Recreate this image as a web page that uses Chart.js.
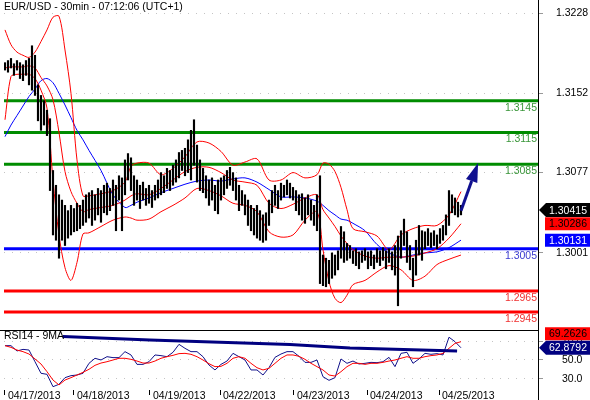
<!DOCTYPE html>
<html lang="en">
<head>
<meta charset="UTF-8">
<title>EUR/USD - 30min</title>
<script src="https://cdn.jsdelivr.net/npm/chart.js"></script>
<style>
  body { margin: 0; background: #fff; }
  #wrap { position: relative; width: 590px; height: 400px; overflow: hidden; }
  #priceChart { position: absolute; left: 0; top: 0; }
  #rsiChart { position: absolute; left: 0; top: 326px; }
  #axisLine { position: absolute; left: 538px; top: 0; width: 1px; height: 400px; background: #000; }
</style>
</head>
<body>
<div id="wrap">
  <canvas id="priceChart" width="590" height="326"></canvas>
  <canvas id="rsiChart" width="590" height="74"></canvas>
  <div id="axisLine"></div>
</div>

<script>
// time axis is in hours from the first bar
const dayHours = [0, 23, 48.33, 71.67, 96.33, 120.67, 144.67];
const dayLabels = ['04/17/2013', '04/18/2013', '04/19/2013', '04/22/2013', '04/23/2013', '04/24/2013', '04/25/2013'];

const priceTicks = [1.3001, 1.3077, 1.3152, 1.3228];
const greenLevels = [1.3145, 1.3115, 1.3085];
const blueLevels = [1.3005];
const redLevels = [1.2965, 1.2945];

// hourly bars (high / low)
const barHigh = [
  1.3181, 1.3183, 1.3185, 1.3180, 1.3183, 1.3181, 1.3179, 1.3183, 1.3185, 1.3197,
  1.3188, 1.3160, 1.3150, 1.3145, 1.3136, 1.3128, 1.3079, 1.3065, 1.3056, 1.3051,
  1.3046, 1.3041, 1.3046, 1.3043, 1.3048, 1.3046, 1.3051, 1.3056, 1.3058, 1.3060,
  1.3056, 1.3062, 1.3060, 1.3065, 1.3067, 1.3062, 1.3070, 1.3065, 1.3074, 1.3072,
  1.3089, 1.3095, 1.3091, 1.3074, 1.3070, 1.3065, 1.3068, 1.3062, 1.3065, 1.3060,
  1.3065, 1.3070, 1.3077, 1.3074, 1.3081, 1.3079, 1.3084, 1.3089, 1.3096, 1.3098,
  1.3100, 1.3108, 1.3117, 1.3127, 1.3103, 1.3089, 1.3081, 1.3074, 1.3070, 1.3072,
  1.3065, 1.3070, 1.3072, 1.3074, 1.3079, 1.3082, 1.3077, 1.3072, 1.3065, 1.3060,
  1.3056, 1.3051, 1.3046, 1.3043, 1.3046, 1.3041, 1.3037, 1.3039, 1.3051, 1.3060,
  1.3065, 1.3060, 1.3067, 1.3065, 1.3070, 1.3067, 1.3063, 1.3060, 1.3056, 1.3057,
  1.3053, 1.3056, 1.3051, 1.3046, 1.3056, 1.3074, 1.2999, 1.2996, 1.2994, 1.3001,
  1.2999, 1.3003, 1.3026, 1.3021, 1.3010, 1.3008, 1.3003, 1.3005, 1.3002, 1.3003,
  1.3005, 1.3002, 1.3003, 1.2999, 1.3005, 1.3003, 1.3006, 1.3003, 1.3005, 1.3002,
  1.3008, 1.3017, 1.3022, 1.3033, 1.3021, 1.3008, 1.2996, 1.3013, 1.3027, 1.3022,
  1.3021, 1.3024, 1.3020, 1.3022, 1.3018, 1.3024, 1.3027, 1.3037, 1.3060, 1.3056,
  1.3053, 1.3049, 1.3046
];
const barLow = [
  1.3174, 1.3172, 1.3176, 1.3169, 1.3174, 1.3166, 1.3164, 1.3169, 1.3160, 1.3155,
  1.3150, 1.3126, 1.3117, 1.3122, 1.3112, 1.3060, 1.3018, 1.3013, 1.2996, 1.3013,
  1.3008, 1.3015, 1.3018, 1.3021, 1.3022, 1.3024, 1.3027, 1.3030, 1.3034, 1.3027,
  1.3032, 1.3037, 1.3030, 1.3039, 1.3037, 1.3041, 1.3046, 1.3022, 1.3051, 1.3022,
  1.3056, 1.3070, 1.3060, 1.3046, 1.3051, 1.3043, 1.3051, 1.3046, 1.3048, 1.3044,
  1.3051, 1.3053, 1.3056, 1.3058, 1.3062, 1.3060, 1.3065, 1.3068, 1.3072, 1.3079,
  1.3074, 1.3077, 1.3070, 1.3084, 1.3068, 1.3060, 1.3058, 1.3053, 1.3046, 1.3051,
  1.3041, 1.3038, 1.3051, 1.3056, 1.3062, 1.3065, 1.3060, 1.3051, 1.3041, 1.3046,
  1.3037, 1.3027, 1.3022, 1.3018, 1.3015, 1.3013, 1.3011, 1.3013, 1.3027, 1.3039,
  1.3046, 1.3043, 1.3051, 1.3054, 1.3056, 1.3053, 1.3051, 1.3041, 1.3037, 1.3032,
  1.3029, 1.3037, 1.3032, 1.3027, 1.3022, 1.2972, 1.2970, 1.2969, 1.2972, 1.2977,
  1.2980, 1.2985, 1.2996, 1.2992, 1.2994, 1.2996, 1.2991, 1.2989, 1.2986, 1.2992,
  1.2994, 1.2986, 1.2989, 1.2986, 1.2992, 1.2989, 1.2994, 1.2986, 1.2992, 1.2985,
  1.2980, 1.2951, 1.2996, 1.3008, 1.2992, 1.2985, 1.2969, 1.2980, 1.2999, 1.2994,
  1.3005, 1.3008, 1.3006, 1.3008, 1.3005, 1.3010, 1.3013, 1.3018, 1.3027, 1.3039,
  1.3037, 1.3035, 1.3037
];

// bollinger bands and moving average, sampled at these hours
const bandHours = [0, 2, 4, 6, 8, 10, 12, 14, 16, 18, 20, 22, 24, 26, 28, 32, 36, 40, 42, 44,
  48, 52, 56, 60, 64, 68, 72, 76, 80, 84, 88, 92, 96, 100, 104, 106, 108, 110, 112, 114,
  116, 120, 124, 128, 132, 136, 140, 144, 148, 152];
const bbUpper = [1.3212, 1.3198, 1.3191, 1.3188, 1.3186, 1.3191, 1.3201, 1.3212, 1.3224, 1.3225,
  1.3193, 1.3152, 1.3089, 1.3055, 1.3055, 1.3057, 1.3060, 1.3068, 1.3083, 1.3086,
  1.3086, 1.3075, 1.3081, 1.3092, 1.3106, 1.3105, 1.3097, 1.3084, 1.3087, 1.3090,
  1.3070, 1.3070, 1.3077, 1.3072, 1.3075, 1.3086, 1.3085, 1.3078, 1.3063, 1.3042,
  1.3024, 1.3021, 1.3017, 1.3004, 1.3018, 1.3024, 1.3027, 1.3027, 1.3037, 1.3059];
const bbMiddle = [1.3176, 1.3177, 1.3177, 1.3177, 1.3178, 1.3176, 1.3167, 1.3159, 1.3146, 1.3115,
  1.3078, 1.3059, 1.3048, 1.3040, 1.3042, 1.3044, 1.3046, 1.3051, 1.3055, 1.3057,
  1.3056, 1.3062, 1.3070, 1.3078, 1.3082, 1.3082, 1.3077, 1.3070, 1.3068, 1.3065,
  1.3048, 1.3043, 1.3047, 1.3053, 1.3056, 1.3042, 1.3034, 1.3026, 1.3017, 1.3010,
  1.3004, 1.2998, 1.2996, 1.2997, 1.2997, 1.2998, 1.3001, 1.3005, 1.3015, 1.30286];
const bbLower = [1.3127, 1.3168, 1.3170, 1.3170, 1.3170, 1.3166, 1.3155, 1.3138, 1.3070, 1.3018,
  1.2987, 1.2975, 1.2992, 1.3019, 1.3020, 1.3026, 1.3032, 1.3035, 1.3034, 1.3032,
  1.3033, 1.3040, 1.3046, 1.3053, 1.3062, 1.3060, 1.3055, 1.3048, 1.3046, 1.3040,
  1.3021, 1.3016, 1.3018, 1.3032, 1.3040, 1.3004, 1.2974, 1.2958, 1.2954, 1.2961,
  1.2971, 1.2975, 1.2983, 1.2989, 1.2985, 1.2975, 1.2979, 1.2990, 1.2995, 1.2999];
const maLine = [1.3111, 1.3122, 1.3131, 1.3140, 1.3149, 1.3156, 1.3164, 1.3166, 1.3162, 1.3152,
  1.3141, 1.3129, 1.3117, 1.3108, 1.3098, 1.3079, 1.3056, 1.3044, 1.3046, 1.3049,
  1.3053, 1.3058, 1.3062, 1.3066, 1.3069, 1.3070, 1.3069, 1.3071, 1.3072, 1.3068,
  1.3061, 1.3054, 1.3054, 1.3053, 1.3050, 1.3046, 1.3041, 1.3037, 1.3033, 1.3032,
  1.3029, 1.3022, 1.3009, 1.3001, 1.2997, 1.2999, 1.3001, 1.3002, 1.3006, 1.30131];

const lastClose = 1.30415;
const arrowHours = [152, 157.7];
const arrowPrices = [1.3041, 1.3086];

// RSI(14) and its 9 period average, one value every 2 hours
const rsiStep = 2;
const rsiVals = [65.1, 65.1, 59.5, 61.2, 60.5, 48.2, 36.0, 34.9, 21.9, 24.4,
  31.4, 33.5, 34.2, 36.0, 46.5, 51.8, 50.0, 53.5, 52.5, 52.5,
  58.8, 55.3, 45.4, 45.4, 48.2, 55.3, 54.6, 53.5, 58.1, 66.5,
  62.3, 58.8, 58.8, 53.5, 44.7, 39.5, 45.4, 48.9, 57.0, 53.5,
  50.0, 39.5, 39.5, 34.2, 41.9, 52.8, 56.3, 58.8, 58.8, 53.9,
  47.5, 47.5, 50.0, 32.4, 28.6, 31.4, 51.1, 46.5, 48.9, 45.8,
  46.5, 47.5, 47.2, 48.2, 52.8, 43.0, 57.0, 58.1, 46.5, 51.1,
  57.0, 56.0, 56.7, 55.3, 74.0, 69.3, 62.8792];
const rsiMaVals = [65.1, 63.3, 60.5, 58.8, 56.3, 51.1, 45.8, 37.7, 28.9, 23.7,
  28.9, 31.4, 34.2, 37.0, 40.2, 44.4, 46.8, 48.2, 50.0, 51.8,
  51.8, 50.7, 48.9, 46.8, 46.8, 48.9, 51.8, 53.5, 54.9, 56.7,
  57.0, 56.0, 53.5, 50.0, 46.1, 43.0, 43.3, 46.5, 51.8, 53.5,
  51.8, 46.5, 41.9, 39.5, 41.2, 46.5, 51.8, 55.3, 55.3, 53.9,
  50.7, 46.5, 43.0, 39.5, 34.2, 33.1, 37.7, 43.0, 46.5, 46.5,
  45.4, 46.5, 46.5, 47.5, 48.9, 50.0, 51.8, 53.5, 51.8, 51.8,
  53.5, 54.6, 55.3, 57.0, 62.3, 67.5, 69.2626];
const rsiTrendHours = [19.3, 48.3, 95, 115, 150.7];
const rsiTrendVals = [74.7, 71.1, 66.3, 62.6, 59.5];
const rsiTicks = [30, 50, 70];

const FONT = '10.5px "Liberation Sans", Arial, sans-serif';
const X_MIN = -0.33, X_MAX = 177.67;

function pts(xs, ys) {
  return xs.map((x, i) => ({x: x, y: ys[i]}));
}
function hline(v) {
  return [{x: X_MIN - 2, y: v}, {x: X_MAX + 2, y: v}];
}
// keep the plot area fixed: no extra room for half-labels at the ends
function fixY(s) {
  s.width = 52;
  s.paddingTop = 0;
  s.paddingBottom = 0;
}

function drawTag(ctx, cy, text, bg, fg, pointed) {
  ctx.fillStyle = bg;
  ctx.beginPath();
  if (pointed) {
    ctx.moveTo(539, cy);
    ctx.lineTo(546, cy - 7);
    ctx.lineTo(590, cy - 7);
    ctx.lineTo(590, cy + 7);
    ctx.lineTo(546, cy + 7);
    ctx.closePath();
  } else {
    ctx.rect(545, cy - 6.5, 45, 13);
  }
  ctx.fill();
  ctx.fillStyle = fg;
  ctx.textAlign = 'center';
  ctx.textBaseline = 'middle';
  ctx.fillText(text, 568, cy + 0.5);
}

// levels, arrow, title and price tags
const priceDecor = {
  id: 'priceDecor',
  afterDraw(chart) {
    const {ctx, chartArea, scales: {x, y}} = chart;
    ctx.save();
    ctx.font = FONT;
    ctx.textAlign = 'right';
    ctx.textBaseline = 'middle';
    const labelLevel = (v, col) => {
      ctx.fillStyle = col;
      ctx.fillText(v.toFixed(4), chartArea.right - 1, y.getPixelForValue(v) + 7);
    };
    greenLevels.forEach(v => labelLevel(v, '#3a963a'));
    blueLevels.forEach(v => labelLevel(v, '#3b3bd0'));
    redLevels.forEach(v => labelLevel(v, '#f03030'));

    // trend arrow
    const x0 = x.getPixelForValue(arrowHours[0]), y0 = y.getPixelForValue(arrowPrices[0]);
    const x1 = x.getPixelForValue(arrowHours[1]), y1 = y.getPixelForValue(arrowPrices[1]);
    const ang = Math.atan2(y1 - y0, x1 - x0);
    const head = 19, half = 6;
    const bx = x1 - head * Math.cos(ang), by = y1 - head * Math.sin(ang);
    ctx.strokeStyle = '#101090';
    ctx.fillStyle = '#101090';
    ctx.lineWidth = 3;
    ctx.beginPath();
    ctx.moveTo(x0, y0);
    ctx.lineTo(bx, by);
    ctx.stroke();
    ctx.beginPath();
    ctx.moveTo(x1, y1);
    ctx.lineTo(bx + half * Math.sin(ang), by - half * Math.cos(ang));
    ctx.lineTo(bx - half * Math.sin(ang), by + half * Math.cos(ang));
    ctx.closePath();
    ctx.fill();

    ctx.fillStyle = '#000';
    ctx.textAlign = 'left';
    ctx.fillText('EUR/USD - 30min - 07:12:06 (UTC+1)', 4, 7);

    drawTag(ctx, y.getPixelForValue(lastClose), lastClose.toFixed(5), '#000', '#fff', true);
    drawTag(ctx, y.getPixelForValue(bbMiddle[bbMiddle.length - 1]), bbMiddle[bbMiddle.length - 1].toFixed(5), '#ff0000', '#000', false);
    drawTag(ctx, y.getPixelForValue(maLine[maLine.length - 1]), maLine[maLine.length - 1].toFixed(5), '#0000ff', '#fff', false);
    ctx.restore();
  }
};

const rsiDecor = {
  id: 'rsiDecor',
  afterDraw(chart) {
    const {ctx, chartArea, scales: {y}} = chart;
    ctx.save();
    ctx.strokeStyle = '#000';
    ctx.lineWidth = 1;
    ctx.beginPath();
    ctx.moveTo(0, chartArea.top + 0.5);
    ctx.lineTo(chartArea.right, chartArea.top + 0.5);
    ctx.stroke();
    ctx.font = FONT;
    ctx.fillStyle = '#000';
    ctx.textAlign = 'left';
    ctx.textBaseline = 'middle';
    ctx.fillText('RSI14 - 9MA', 4, chartArea.top + 6.5);

    const lastRsi = rsiVals[rsiVals.length - 1];
    const lastMa = rsiMaVals[rsiMaVals.length - 1];
    const cyRsi = y.getPixelForValue(lastRsi);
    const cyMa = Math.min(y.getPixelForValue(lastMa), cyRsi - 14);
    drawTag(ctx, cyMa, lastMa.toFixed(4), '#ff0000', '#000', false);
    drawTag(ctx, cyRsi, lastRsi.toFixed(4), '#000080', '#fff', true);
    ctx.restore();
  }
};

const priceDatasets = [
  {
    type: 'bar',
    data: barHigh.map((h, i) => ({x: i, y: [barLow[i], h]})),
    backgroundColor: '#000',
    barThickness: 1.5,
    grouped: false,
    order: 0
  },
  {type: 'line', data: pts(bandHours, bbUpper), borderColor: '#ff0000', order: 1},
  {type: 'line', data: pts(bandHours, bbMiddle), borderColor: '#ff0000', order: 1},
  {type: 'line', data: pts(bandHours, bbLower), borderColor: '#ff0000', order: 1},
  {type: 'line', data: pts(bandHours, maLine), borderColor: '#0000ff', order: 1}
];
greenLevels.forEach(v => priceDatasets.push({type: 'line', data: hline(v), borderColor: '#008c00', borderWidth: 3, order: 2}));
blueLevels.forEach(v => priceDatasets.push({type: 'line', data: hline(v), borderColor: '#0000ff', borderWidth: 3, order: 2}));
redLevels.forEach(v => priceDatasets.push({type: 'line', data: hline(v), borderColor: '#ff0000', borderWidth: 3, order: 2}));
priceDatasets.forEach(d => {
  if (d.type === 'line') {
    d.pointRadius = 0;
    d.tension = d.borderWidth ? 0 : 0.3;
    if (!d.borderWidth) d.borderWidth = 1;
  }
});

new Chart(document.getElementById('priceChart'), {
  type: 'bar',
  data: {datasets: priceDatasets},
  options: {
    responsive: false,
    animation: false,
    events: [],
    layout: {padding: {left: 4, top: 0, right: 0, bottom: 3}},
    plugins: {legend: {display: false}, tooltip: {enabled: false}},
    scales: {
      x: {type: 'linear', min: X_MIN, max: X_MAX, display: false, offset: false},
      y: {
        position: 'right',
        min: 1.29347,
        max: 1.32403,
        afterBuildTicks: s => { s.ticks = priceTicks.map(v => ({value: v})); },
        afterFit: fixY,
        ticks: {
          callback: v => v.toFixed(4),
          font: {family: '"Liberation Sans", Arial, sans-serif', size: 10.5},
          color: '#000',
          crossAlign: 'center',
          padding: 13
        },
        grid: {color: '#c4c4c4', tickLength: 5, tickColor: '#999'},
        border: {display: false, dash: [1, 7]}
      }
    }
  },
  plugins: [priceDecor]
});

const rsiDatasets = [
  {data: pts(rsiTrendHours, rsiTrendVals), borderColor: '#000080', borderWidth: 3, order: 0},
  {data: pts(rsiMaVals.map((v, i) => i * rsiStep), rsiMaVals), borderColor: '#ff0000', borderWidth: 1, order: 1},
  {data: pts(rsiVals.map((v, i) => i * rsiStep), rsiVals), borderColor: '#10108a', borderWidth: 1, order: 2}
];
rsiDatasets.forEach(d => { d.pointRadius = 0; d.tension = 0; });

new Chart(document.getElementById('rsiChart'), {
  type: 'line',
  data: {datasets: rsiDatasets},
  options: {
    responsive: false,
    animation: false,
    events: [],
    layout: {padding: {left: 4, top: 4, right: 0, bottom: 0}},
    plugins: {legend: {display: false}, tooltip: {enabled: false}},
    scales: {
      x: {
        type: 'linear',
        min: X_MIN,
        max: X_MAX,
        afterBuildTicks: s => { s.ticks = dayHours.map(v => ({value: v})); },
        afterFit: s => { s.height = 10; s.paddingLeft = 0; s.paddingRight = 0; },
        ticks: {
          callback: (v, i) => dayLabels[i],
          autoSkip: false,
          maxRotation: 0,
          align: 'start',
          labelOffset: 3,
          padding: -5,
          font: {family: '"Liberation Sans", Arial, sans-serif', size: 10.5},
          color: '#000'
        },
        grid: {drawOnChartArea: false, tickLength: 5, tickColor: '#000'},
        border: {display: false}
      },
      y: {
        position: 'right',
        min: 18.4,
        max: 81.6,
        afterBuildTicks: s => { s.ticks = rsiTicks.map(v => ({value: v})); },
        afterFit: fixY,
        ticks: {
          callback: v => v.toFixed(1),
          font: {family: '"Liberation Sans", Arial, sans-serif', size: 10.5},
          color: '#000',
          crossAlign: 'center',
          padding: 19
        },
        grid: {color: '#c4c4c4', tickLength: 5, tickColor: '#999'},
        border: {display: false, dash: [1, 7]}
      }
    }
  },
  plugins: [rsiDecor]
});
</script>
</body>
</html>
